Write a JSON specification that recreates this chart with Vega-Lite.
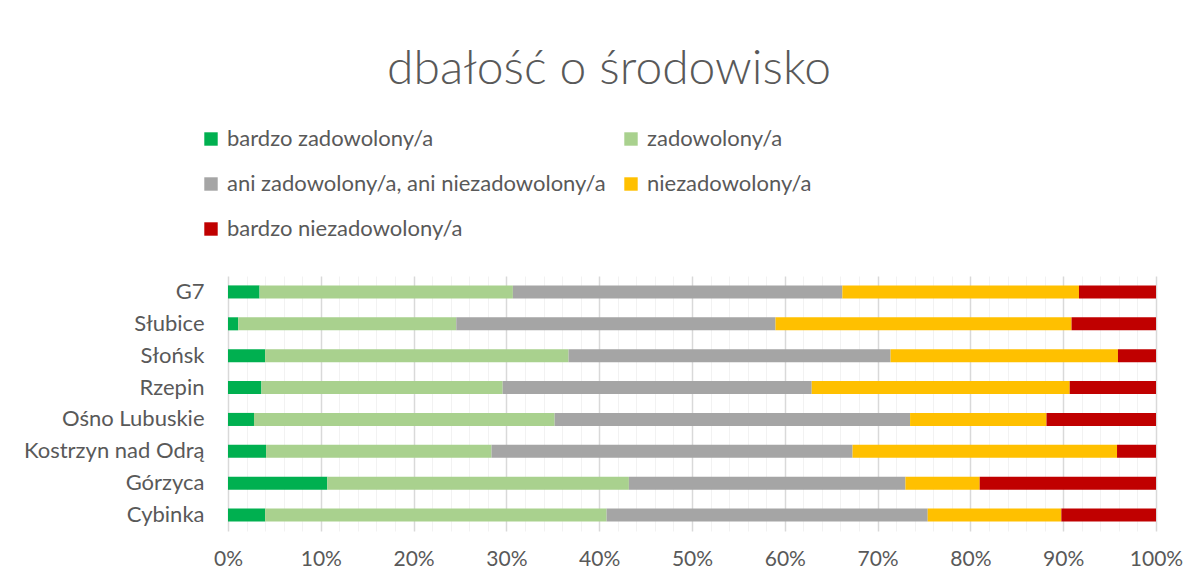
{
  "$schema": "https://vega.github.io/schema/vega-lite/v6.json",
  "autosize": "none",
  "width": 928,
  "height": 255,
  "padding": {"left": 228, "top": 276, "right": 44, "bottom": 52},
  "background": "white",
  "config": {"view": {"stroke": null}, "font": "Lato"},
  "title": {
    "text": "dbałość o środowisko",
    "font": "Lato",
    "fontSize": 48,
    "fontWeight": 300,
    "color": "#595959",
    "anchor": "middle",
    "frame": "group",
    "dx": -83,
    "offset": 34
  },
  "data": {
    "values": [
      {"miasto": "G7", "kategoria": "bardzo zadowolony/a", "nr": 1, "procent": 3.4},
      {"miasto": "G7", "kategoria": "zadowolony/a", "nr": 2, "procent": 27.3},
      {"miasto": "G7", "kategoria": "ani zadowolony/a, ani niezadowolony/a", "nr": 3, "procent": 35.5},
      {"miasto": "G7", "kategoria": "niezadowolony/a", "nr": 4, "procent": 25.5},
      {"miasto": "G7", "kategoria": "bardzo niezadowolony/a", "nr": 5, "procent": 8.3},
      {"miasto": "Słubice", "kategoria": "bardzo zadowolony/a", "nr": 1, "procent": 1.1},
      {"miasto": "Słubice", "kategoria": "zadowolony/a", "nr": 2, "procent": 23.5},
      {"miasto": "Słubice", "kategoria": "ani zadowolony/a, ani niezadowolony/a", "nr": 3, "procent": 34.4},
      {"miasto": "Słubice", "kategoria": "niezadowolony/a", "nr": 4, "procent": 31.9},
      {"miasto": "Słubice", "kategoria": "bardzo niezadowolony/a", "nr": 5, "procent": 9.1},
      {"miasto": "Słońsk", "kategoria": "bardzo zadowolony/a", "nr": 1, "procent": 4.0},
      {"miasto": "Słońsk", "kategoria": "zadowolony/a", "nr": 2, "procent": 32.7},
      {"miasto": "Słońsk", "kategoria": "ani zadowolony/a, ani niezadowolony/a", "nr": 3, "procent": 34.7},
      {"miasto": "Słońsk", "kategoria": "niezadowolony/a", "nr": 4, "procent": 24.5},
      {"miasto": "Słońsk", "kategoria": "bardzo niezadowolony/a", "nr": 5, "procent": 4.1},
      {"miasto": "Rzepin", "kategoria": "bardzo zadowolony/a", "nr": 1, "procent": 3.6},
      {"miasto": "Rzepin", "kategoria": "zadowolony/a", "nr": 2, "procent": 26.0},
      {"miasto": "Rzepin", "kategoria": "ani zadowolony/a, ani niezadowolony/a", "nr": 3, "procent": 33.3},
      {"miasto": "Rzepin", "kategoria": "niezadowolony/a", "nr": 4, "procent": 27.8},
      {"miasto": "Rzepin", "kategoria": "bardzo niezadowolony/a", "nr": 5, "procent": 9.3},
      {"miasto": "Ośno Lubuskie", "kategoria": "bardzo zadowolony/a", "nr": 1, "procent": 2.8},
      {"miasto": "Ośno Lubuskie", "kategoria": "zadowolony/a", "nr": 2, "procent": 32.4},
      {"miasto": "Ośno Lubuskie", "kategoria": "ani zadowolony/a, ani niezadowolony/a", "nr": 3, "procent": 38.3},
      {"miasto": "Ośno Lubuskie", "kategoria": "niezadowolony/a", "nr": 4, "procent": 14.7},
      {"miasto": "Ośno Lubuskie", "kategoria": "bardzo niezadowolony/a", "nr": 5, "procent": 11.8},
      {"miasto": "Kostrzyn nad Odrą", "kategoria": "bardzo zadowolony/a", "nr": 1, "procent": 4.1},
      {"miasto": "Kostrzyn nad Odrą", "kategoria": "zadowolony/a", "nr": 2, "procent": 24.3},
      {"miasto": "Kostrzyn nad Odrą", "kategoria": "ani zadowolony/a, ani niezadowolony/a", "nr": 3, "procent": 38.9},
      {"miasto": "Kostrzyn nad Odrą", "kategoria": "niezadowolony/a", "nr": 4, "procent": 28.5},
      {"miasto": "Kostrzyn nad Odrą", "kategoria": "bardzo niezadowolony/a", "nr": 5, "procent": 4.2},
      {"miasto": "Górzyca", "kategoria": "bardzo zadowolony/a", "nr": 1, "procent": 10.7},
      {"miasto": "Górzyca", "kategoria": "zadowolony/a", "nr": 2, "procent": 32.5},
      {"miasto": "Górzyca", "kategoria": "ani zadowolony/a, ani niezadowolony/a", "nr": 3, "procent": 29.8},
      {"miasto": "Górzyca", "kategoria": "niezadowolony/a", "nr": 4, "procent": 8.0},
      {"miasto": "Górzyca", "kategoria": "bardzo niezadowolony/a", "nr": 5, "procent": 19.0},
      {"miasto": "Cybinka", "kategoria": "bardzo zadowolony/a", "nr": 1, "procent": 4.0},
      {"miasto": "Cybinka", "kategoria": "zadowolony/a", "nr": 2, "procent": 36.8},
      {"miasto": "Cybinka", "kategoria": "ani zadowolony/a, ani niezadowolony/a", "nr": 3, "procent": 34.6},
      {"miasto": "Cybinka", "kategoria": "niezadowolony/a", "nr": 4, "procent": 14.4},
      {"miasto": "Cybinka", "kategoria": "bardzo niezadowolony/a", "nr": 5, "procent": 10.2}
    ]
  },
  "mark": {"type": "bar"},
  "encoding": {
    "y": {
      "field": "miasto",
      "type": "nominal",
      "sort": ["G7", "Słubice", "Słońsk", "Rzepin", "Ośno Lubuskie", "Kostrzyn nad Odrą", "Górzyca", "Cybinka"],
      "scale": {"paddingInner": 0.59, "paddingOuter": 0.295},
      "axis": {
        "title": null,
        "domain": false,
        "ticks": false,
        "labelFont": "Lato",
        "labelFontSize": 22,
        "labelColor": "#595959",
        "labelPadding": 24,
        "labelLimit": 400
      }
    },
    "x": {
      "field": "procent",
      "type": "quantitative",
      "stack": "normalize",
      "scale": {"domain": [0, 1], "nice": false},
      "axis": {
        "title": null,
        "domain": false,
        "ticks": false,
        "values": [0, 0.02, 0.04, 0.06, 0.08, 0.1, 0.12, 0.14, 0.16, 0.18, 0.2, 0.22, 0.24, 0.26, 0.28, 0.3, 0.32, 0.34, 0.36, 0.38, 0.4, 0.42, 0.44, 0.46, 0.48, 0.5, 0.52, 0.54, 0.56, 0.58, 0.6, 0.62, 0.64, 0.66, 0.68, 0.7, 0.72, 0.74, 0.76, 0.78, 0.8, 0.82, 0.84, 0.86, 0.88, 0.9, 0.92, 0.94, 0.96, 0.98, 1],
        "labelExpr": "abs(datum.value * 10 - round(datum.value * 10)) < 0.001 ? format(datum.value, '.0%') : ''",
        "grid": true,
        "gridColor": {"condition": {"test": "abs(datum.value * 10 - round(datum.value * 10)) < 0.001", "value": "#d9d9d9"}, "value": "#f2f2f2"},
        "gridWidth": {"condition": {"test": "abs(datum.value * 10 - round(datum.value * 10)) < 0.001", "value": 1.5}, "value": 1},
        "labelFont": "Lato",
        "labelFontSize": 21,
        "labelColor": "#595959",
        "labelPadding": 17,
        "labelFlush": false
      }
    },
    "color": {
      "field": "kategoria",
      "type": "nominal",
      "scale": {
        "domain": ["bardzo zadowolony/a", "ani zadowolony/a, ani niezadowolony/a", "bardzo niezadowolony/a", "zadowolony/a", "niezadowolony/a"],
        "range": ["#00B050", "#A5A5A5", "#C00000", "#A9D18E", "#FFC000"]
      },
      "legend": {
        "title": null,
        "orient": "none",
        "legendX": -28,
        "legendY": -148,
        "columns": 2,
        "columnPadding": 14,
        "rowPadding": 23,
        "symbolType": "square",
        "symbolSize": 180,
        "symbolStrokeWidth": 0,
        "symbolOpacity": 1,
        "labelFont": "Lato",
        "labelFontSize": 22,
        "labelColor": "#595959",
        "labelOffset": 5,
        "labelLimit": 500
      }
    },
    "order": {"field": "nr", "type": "quantitative"}
  }
}
